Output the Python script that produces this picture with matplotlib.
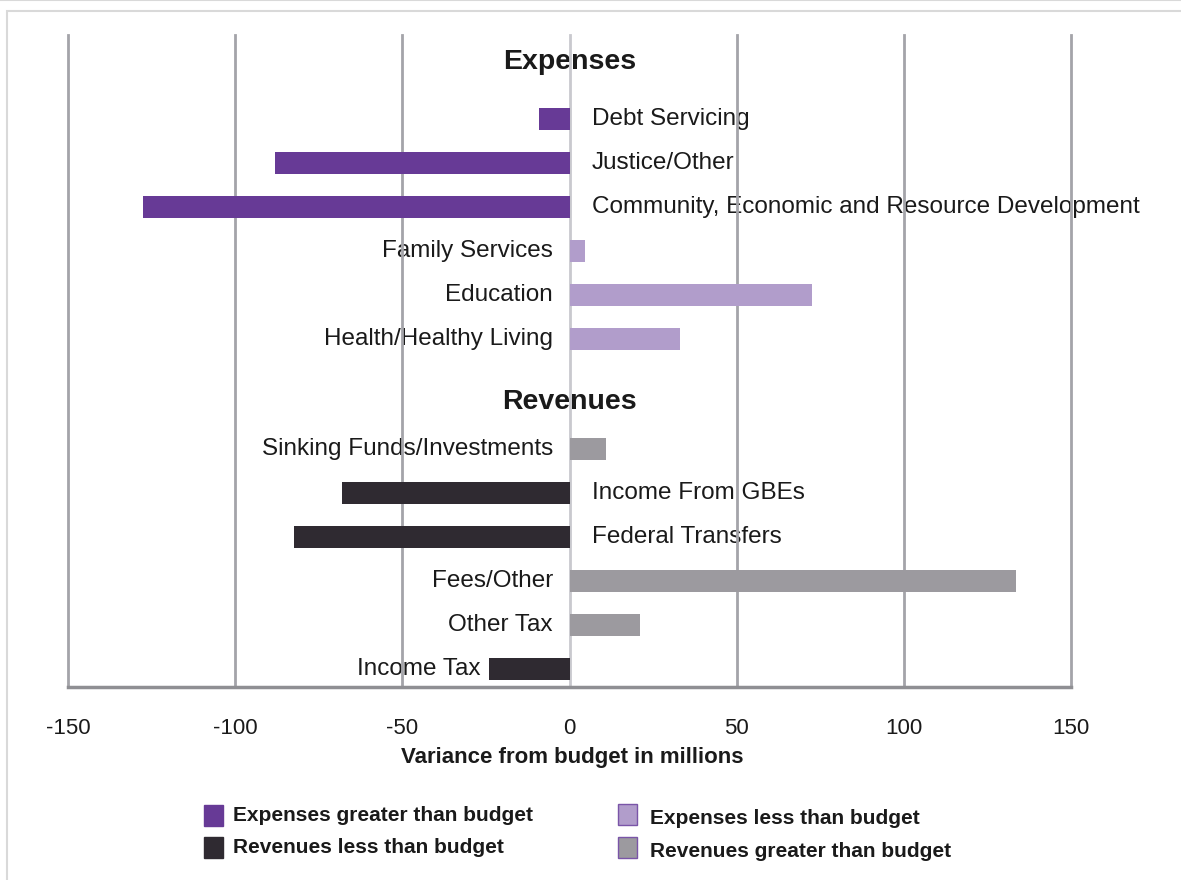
import numpy as np
import matplotlib.pyplot as plt
from matplotlib.patches import Rectangle
from matplotlib.lines import Line2D

# ---------------------------------------------------------------------------
# Data (millions, variance from budget), listed bottom to top
# ---------------------------------------------------------------------------
revenue_labels = ['Income Tax', 'Other Tax', 'Fees/Other', 'Federal Transfers',
                  'Income From GBEs', 'Sinking Funds/Investments']
revenue_values = [-24, 21, 133.5, -82.5, -68, 11]

expense_labels = ['Health/Healthy Living', 'Education', 'Family Services',
                  'Community, Economic and Resource Development',
                  'Justice/Other', 'Debt Servicing']
expense_values = [33, 72.5, 4.5, -127.5, -88, -9]

legend_labels = ['Expenses greater than budget', 'Revenues less than budget',
                 'Expenses less than budget', 'Revenues greater than budget']

x_ticks = [-150, -100, -50, 0, 50, 100, 150]

# colours
EXP_OVER = '#673a96'
EXP_UNDER = '#b19dcb'
REV_UNDER = '#2f2a31'
REV_OVER = '#9c9a9f'
GRID = '#a4a4a9'

plt.rcParams['font.family'] = ['Liberation Sans', 'DejaVu Sans']

W, H = 1181, 880
fig = plt.figure(figsize=(W / 100, H / 100), dpi=100)
ax = fig.add_axes([68 / W, 1 - 687 / H, (1071 - 68) / W, (687 - 35) / H])

rev_pos = np.arange(len(revenue_values))
exp_pos = np.arange(len(expense_values)) + len(revenue_values) + 1.5

rev_colors = [REV_UNDER if v < 0 else REV_OVER for v in revenue_values]
exp_colors = [EXP_OVER if v < 0 else EXP_UNDER for v in expense_values]

ax.barh(rev_pos, revenue_values, height=0.5, color=rev_colors, zorder=3)
ax.barh(exp_pos, expense_values, height=0.5, color=exp_colors, zorder=3)

# category labels sit on the opposite side of zero from the bar,
# except Income Tax which sits just left of its own bar
for pos, lab, val in zip(list(rev_pos) + list(exp_pos),
                         revenue_labels + expense_labels,
                         revenue_values + expense_values):
    kw = dict(textcoords='offset points', va='center', fontsize=17.5,
              color='#1a1a1a', zorder=1)
    if lab == 'Income Tax':
        ax.annotate(lab, (val, pos), xytext=(-6, 0), ha='right', **kw)
    elif val < 0:
        ax.annotate(lab, (0, pos), xytext=(16, 0), ha='left', **kw)
    else:
        ax.annotate(lab, (0, pos), xytext=(-12, 0), ha='right', **kw)

ax.text(0, exp_pos[-1] + 1.3, 'Expenses', ha='center', va='center',
        fontsize=20.5, fontweight='bold', color='#1a1a1a', zorder=1)
ax.text(0, rev_pos[-1] + 1.07, 'Revenues', ha='center', va='center',
        fontsize=20.5, fontweight='bold', color='#1a1a1a', zorder=1)

# gridlines
for xt in x_ticks:
    ax.axvline(xt, color='#c9c9ce' if xt == 0 else GRID, lw=2, zorder=2,
               clip_on=False)

ax.set_xlim(-150, 150)
ax.set_ylim(-0.41, 14.41)
ax.set_xticks(x_ticks)
ax.set_xticklabels([str(t) for t in x_ticks], fontsize=16, color='#1a1a1a')
ax.tick_params(axis='x', length=0, pad=22)
ax.set_yticks([])
for s in ['top', 'left', 'right']:
    ax.spines[s].set_visible(False)
ax.spines['bottom'].set_color('#8f8f93')
ax.spines['bottom'].set_linewidth(2.5)
ax.spines['bottom'].set_zorder(4)

fig.text(572 / W, 1 - 757 / H, 'Variance from budget in millions', ha='center',
         va='center', fontsize=16, fontweight='bold', color='#1a1a1a')

# legend built by hand to match the two-column layout
legend_items = [
    (204, 805, EXP_OVER, EXP_OVER, 233, 815),
    (204, 837, REV_UNDER, REV_UNDER, 233, 847),
    (618, 804, EXP_UNDER, '#7a55a8', 650, 818),
    (618, 837, REV_OVER, '#7a55a8', 650, 851),
]
for (sx, sy, fc, ec, tx, ty), lab in zip(legend_items, legend_labels):
    fig.patches.append(Rectangle((sx / W, 1 - (sy + 21) / H), 19 / W, 21 / H,
                                 transform=fig.transFigure, facecolor=fc,
                                 edgecolor=ec, lw=1))
    fig.text(tx / W, 1 - ty / H, lab, ha='left', va='center', fontsize=15,
             fontweight='bold', color='#1a1a1a')

# light outer frame
fig.patches.append(Rectangle((7 / W, -0.1), 1.2, 1 - 11 / H + 0.1,
                             transform=fig.transFigure, facecolor='none',
                             edgecolor='#d9d9d9', lw=1.5))
fig.lines.append(Line2D([0, 1], [1 - 0.5 / H, 1 - 0.5 / H],
                        transform=fig.transFigure, color='#d9d9d9', lw=1.5))

fig.savefig('out.png', dpi=100)
